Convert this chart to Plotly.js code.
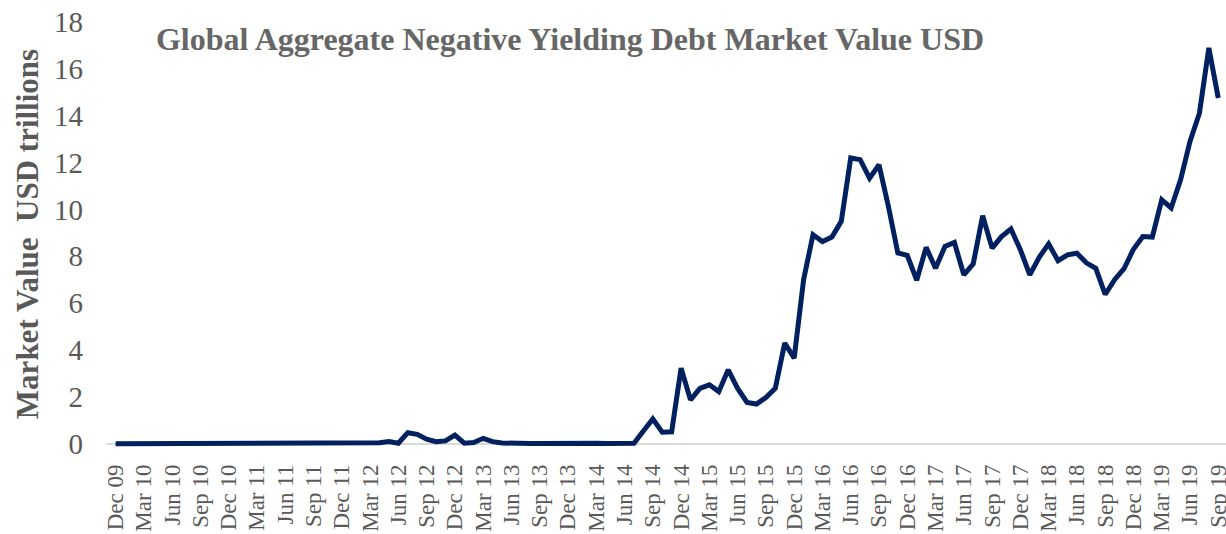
<!DOCTYPE html>
<html>
<head>
<meta charset="utf-8">
<script src="https://cdn.plot.ly/plotly-3.0.1.min.js"></script>
<style>html,body{margin:0;padding:0;background:#fff;}#chart{width:1226px;height:534px;}</style>
</head>
<body>
<div id="chart"></div>
<script>
// Month-end observations, Dec 09 .. Sep 19 (118 months)
const startYear = 2009, startMonth = 11; // December 2009 (0-based month)
const monthNames = ["Jan","Feb","Mar","Apr","May","Jun","Jul","Aug","Sep","Oct","Nov","Dec"];

// Market value, USD trillions
const marketValue = [
  0.01,0.01,0.01,0.01,0.01,0.01,0.02,0.02,0.01,0.01,0.01,0.01,
  0.01,0.01,0.01,0.01,0.01,0.01,0.01,0.01,0.01,0.01,0.01,0.02,
  0.05,0.04,0.03,0.03,0.05,0.10,0.03,0.48,0.41,0.20,0.10,0.13,
  0.38,0.03,0.06,0.24,0.10,0.04,
  0.02,0.02,0.02,0.02,0.03,0.02,0.03,0.03,0.02,0.03,0.02,0.02,0.02,
  0.03,0.55,1.07,0.50,0.52,3.23,1.88,2.37,2.52,2.23,3.16,2.37,
  1.77,1.70,1.98,2.37,4.30,3.66,7.00,8.92,8.63,8.82,9.49,12.19,
  12.12,11.33,11.90,10.12,8.14,8.04,6.98,8.38,7.49,8.42,8.59,7.21,
  7.68,9.73,8.35,8.84,9.16,8.28,7.21,7.96,8.53,7.81,8.06,8.13,
  7.72,7.49,6.37,7.00,7.47,8.30,8.84,8.82,10.41,10.06,11.26,12.90,
  14.10,16.88,14.75
];

// Category labels for every month
const months = [];
for (let k = 0; k < marketValue.length; k++) {
  const m = (startMonth + k) % 12;
  const y = startYear + Math.floor((startMonth + k) / 12);
  months.push(monthNames[m] + " " + String(y % 100).padStart(2, "0"));
}

// Quarterly tick labels shown on the axis
const tickLabels = [
  "Dec 09","Mar 10","Jun 10","Sep 10","Dec 10","Mar 11","Jun 11","Sep 11",
  "Dec 11","Mar 12","Jun 12","Sep 12","Dec 12","Mar 13","Jun 13","Sep 13",
  "Dec 13","Mar 14","Jun 14","Sep 14","Dec 14","Mar 15","Jun 15","Sep 15",
  "Dec 15","Mar 16","Jun 16","Sep 16","Dec 16","Mar 17","Jun 17","Sep 17",
  "Dec 17","Mar 18","Jun 18","Sep 18","Dec 18","Mar 19","Jun 19","Sep 19"
];

const yTicks = [0,2,4,6,8,10,12,14,16,18];

const trace = {
  type: "scatter",
  mode: "lines",
  x: months,
  y: marketValue,
  line: {color: "#002060", width: 5},
  hoverinfo: "x+y"
};

const serif = "Liberation Serif, Times New Roman, serif";
const gray = "#595959";

const layout = {
  width: 1226, height: 534,
  margin: {l: 106, r: 0, t: 17, b: 83},
  paper_bgcolor: "#fff",
  plot_bgcolor: "#fff",
  showlegend: false,
  title: {
    text: "<b>Global Aggregate Negative Yielding Debt Market Value USD</b>",
    font: {family: serif, size: 32, color: "#666666"},
    xref: "container", yref: "container",
    x: 570/1226, xanchor: "center",
    y: 1 - 39/534, yanchor: "middle"
  },
  xaxis: {
    type: "category",
    range: [-1.02, 117.82],
    tickmode: "array",
    tickvals: tickLabels,
    ticktext: tickLabels,
    tickangle: -90,
    tickfont: {family: serif, size: 23, color: gray},
    showgrid: false,
    showline: false,
    zeroline: false,
    ticks: "",
    ticklabelstandoff: 8,
    automargin: false
  },
  yaxis: {
    range: [-0.3, 18.2],
    tickmode: "array",
    tickvals: yTicks,
    ticktext: yTicks.map(String),
    tickfont: {family: serif, size: 29, color: gray},
    showgrid: false,
    showline: false,
    zeroline: true,
    zerolinecolor: "#d9d9d9",
    zerolinewidth: 2,
    ticks: "",
    ticklabelstandoff: 22,
    title: {
      text: "<b>Market Value  USD trillions</b>",
      font: {family: serif, size: 31, color: gray},
      standoff: 6
    },
    automargin: false
  }
};

Plotly.newPlot("chart", [trace], layout, {displayModeBar: false, staticPlot: true});
</script>
</body>
</html>
